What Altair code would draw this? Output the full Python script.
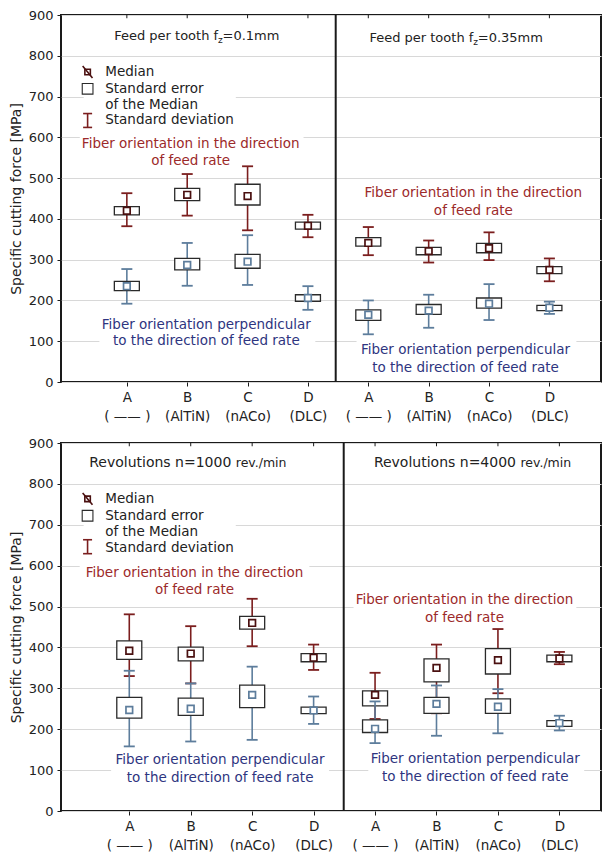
import altair as alt
import pandas as pd

# ---------------- data ----------------
cats = ["A", "B", "C", "D"]
cat_sub = ["( —— )", "(AlTiN)", "(nACo)", "(DLC)"]

# Top: feed per tooth fz=0.1mm (left) / 0.35mm (right)
fz01_red_med = [420, 459, 456, 383]
fz01_red_se_lo = [410, 445, 434, 375]
fz01_red_se_hi = [430, 475, 485, 392]
fz01_red_sd_lo = [382, 408, 372, 355]
fz01_red_sd_hi = [463, 510, 529, 410]
fz01_blue_med = [235, 287, 295, 206]
fz01_blue_se_lo = [224, 275, 279, 198]
fz01_blue_se_hi = [247, 303, 313, 214]
fz01_blue_sd_lo = [192, 236, 238, 177]
fz01_blue_sd_hi = [277, 341, 360, 235]

fz035_red_med = [341, 321, 328, 275]
fz035_red_se_lo = [333, 312, 317, 266]
fz035_red_se_hi = [354, 330, 340, 283]
fz035_red_sd_lo = [311, 293, 299, 247]
fz035_red_sd_hi = [380, 347, 367, 303]
fz035_blue_med = [165, 175, 192, 182]
fz035_blue_se_lo = [151, 166, 181, 175]
fz035_blue_se_hi = [177, 190, 206, 188]
fz035_blue_sd_lo = [117, 133, 152, 167]
fz035_blue_sd_hi = [200, 214, 240, 197]

# Bottom: revolutions n=1000 (left) / n=4000 (right)
n1000_red_med = [392, 385, 460, 375]
n1000_red_se_lo = [371, 367, 445, 365]
n1000_red_se_hi = [416, 401, 476, 385]
n1000_red_sd_lo = [330, 312, 403, 345]
n1000_red_sd_hi = [481, 452, 519, 407]
n1000_blue_med = [247, 250, 284, 246]
n1000_blue_se_lo = [227, 234, 253, 238]
n1000_blue_se_hi = [278, 276, 308, 254]
n1000_blue_sd_lo = [158, 170, 174, 213]
n1000_blue_sd_hi = [343, 312, 353, 280]

n4000_red_med = [284, 350, 369, 373]
n4000_red_se_lo = [257, 316, 335, 365]
n4000_red_se_hi = [294, 372, 397, 381]
n4000_red_sd_lo = [225, 239, 288, 359]
n4000_red_sd_hi = [338, 407, 445, 389]
n4000_blue_med = [201, 262, 255, 215]
n4000_blue_se_lo = [192, 239, 239, 207]
n4000_blue_se_hi = [223, 278, 274, 221]
n4000_blue_sd_lo = [166, 184, 190, 197]
n4000_blue_sd_hi = [268, 307, 298, 233]

y_ticks = [0, 100, 200, 300, 400, 500, 600, 700, 800, 900]

# ---------------- style ----------------
RED_W = "#7b1e1e"
BLUE_W = "#5d7d9c"
RED_MED = "#4a1010"
BOX = "#2a2a2a"
RED_TXT = "#9c2a2a"
BLUE_TXT = "#2e3580"
BLACK = "#1a1a1a"
FONT = "DejaVu Sans"
W = 540


def series_df(med, se_lo, se_hi, sd_lo, sd_hi, offset):
    return pd.DataFrame({
        "pos": [offset + i for i in range(len(med))],
        "med": med, "se_lo": se_lo, "se_hi": se_hi,
        "sd_lo": sd_lo, "sd_hi": sd_hi,
    })


def panel(red_l, blue_l, red_r, blue_r, xdom, divider, texts, rects, icons, height):
    red = pd.concat([series_df(*red_l, 0), series_df(*red_r, 4)])
    blue = pd.concat([series_df(*blue_l, 0), series_df(*blue_r, 4)])

    entries = ",".join(f"['{c}','{s}']" for c, s in zip(cats * 2, cat_sub * 2))
    xscale = alt.Scale(domain=xdom, nice=False, zero=False)
    yscale = alt.Scale(domain=[0, 900], nice=False, zero=True)
    xaxis = alt.Axis(values=list(range(8)), labelExpr=f"[{entries}][datum.value]",
                     title=None, grid=False, domain=False, tickSize=4,
                     tickColor=BLACK, labelFontSize=13.5, labelColor="#222",
                     labelLineHeight=19, labelPadding=4, labelFont=FONT)
    yaxis = alt.Axis(values=y_ticks, title="Specific cutting force [MPa]",
                     titleFontSize=14, titleFontWeight="normal", titleColor="#222",
                     titleFont=FONT, titlePadding=5,
                     grid=True, gridColor="#d8d8d8", gridWidth=1,
                     domain=False, tickSize=4, tickColor=BLACK,
                     labelFontSize=13, labelColor="#222", labelPadding=4,
                     labelFont=FONT)
    X = alt.X("x:Q", scale=xscale, axis=xaxis)
    Y = alt.Y("y:Q", scale=yscale, axis=yaxis)

    layers = []
    # white backgrounds behind text blocks (hide the grid)
    rect_df = pd.DataFrame(rects, columns=["x", "x2", "y", "y2"])
    layers.append(alt.Chart(rect_df).mark_rect(fill="white", strokeWidth=0).encode(
        x=X, x2="x2:Q", y=Y, y2="y2:Q"))
    # inner ticks at top border
    tick_df = pd.DataFrame({"x": list(range(8)), "y": [900] * 8, "y2": [892] * 8})
    layers.append(alt.Chart(tick_df).mark_rule(color=BLACK, strokeWidth=1).encode(
        x=X, y=Y, y2="y2:Q"))

    for df, wcol, mcol in [(red, RED_W, RED_MED), (blue, BLUE_W, BLUE_W)]:
        base = alt.Chart(df)
        xs = alt.X("pos:Q", scale=xscale, axis=xaxis)
        layers.append(base.mark_rule(color=wcol, strokeWidth=1.6).encode(
            x=xs, y=alt.Y("sd_lo:Q", scale=yscale, axis=yaxis), y2="sd_hi:Q"))
        layers.append(base.mark_tick(orient="horizontal", color=wcol, size=11,
                                     thickness=1.8, opacity=1).encode(
            x=xs, y=alt.Y("sd_lo:Q", scale=yscale, axis=yaxis)))
        layers.append(base.mark_tick(orient="horizontal", color=wcol, size=11,
                                     thickness=1.8, opacity=1).encode(
            x=xs, y=alt.Y("sd_hi:Q", scale=yscale, axis=yaxis)))
        layers.append(base.mark_bar(size=25, fill="white", stroke=BOX,
                                    strokeWidth=1.3).encode(
            x=xs, y=alt.Y("se_lo:Q", scale=yscale, axis=yaxis), y2="se_hi:Q"))
        layers.append(base.mark_square(size=44, fill="white", stroke=mcol,
                                       strokeWidth=1.7, opacity=1).encode(
            x=xs, y=alt.Y("med:Q", scale=yscale, axis=yaxis)))

    # divider between the two sub-panels
    div_df = pd.DataFrame({"x": [divider], "y": [0], "y2": [900]})
    layers.append(alt.Chart(div_df).mark_rule(color=BLACK, strokeWidth=2).encode(
        x=X, y=Y, y2="y2:Q"))

    # legend icons
    (mx, my, dx1, dx2, dy1, dy2, sey, sdy1, sdy2) = icons
    ic_sq = pd.DataFrame({"x": [mx], "y": [my]})
    layers.append(alt.Chart(ic_sq).mark_square(size=30, fill="white", stroke=RED_MED,
                                               strokeWidth=1.6, opacity=1).encode(x=X, y=Y))
    ic_diag = pd.DataFrame({"x": [dx1], "x2": [dx2], "y": [dy1], "y2": [dy2]})
    layers.append(alt.Chart(ic_diag).mark_rule(color=RED_MED, strokeWidth=1.6).encode(
        x=X, x2="x2:Q", y=Y, y2="y2:Q"))
    ic_se = pd.DataFrame({"x": [mx], "y": [sey]})
    layers.append(alt.Chart(ic_se).mark_square(size=115, fill="white", stroke=BOX,
                                               strokeWidth=1.1, opacity=1).encode(x=X, y=Y))
    ic_sd = pd.DataFrame({"x": [mx], "y": [sdy1], "y2": [sdy2]})
    layers.append(alt.Chart(ic_sd).mark_rule(color=RED_W, strokeWidth=1.6).encode(
        x=X, y=Y, y2="y2:Q"))
    ic_caps = pd.DataFrame({"x": [mx, mx], "y": [sdy1, sdy2]})
    layers.append(alt.Chart(ic_caps).mark_tick(orient="horizontal", color=RED_W, size=9,
                                               thickness=1.6, opacity=1).encode(x=X, y=Y))

    # texts
    tdf = pd.DataFrame(texts, columns=["x", "y", "text", "size", "color", "align"])
    for al in ["left", "center", "right"]:
        sub = tdf[tdf["align"] == al]
        if len(sub) == 0:
            continue
        layers.append(alt.Chart(sub).mark_text(align=al, baseline="middle",
                                               font=FONT).encode(
            x=X, y=Y, text="text:N",
            size=alt.Size("size:Q", scale=None, legend=None),
            color=alt.Color("color:N", scale=None, legend=None)))

    return alt.layer(*layers).properties(width=W, height=height)


K = "#222"
top_texts = [
    (1.512, 847.8, "Feed per tooth f", 13, K, "right"),
    (1.512, 839.5, "z", 9, K, "left"),
    (1.585, 847.8, "=0.1mm", 13, K, "left"),
    (5.740, 842.9, "Feed per tooth f", 13, K, "right"),
    (5.740, 834.6, "z", 9, K, "left"),
    (5.813, 842.9, "=0.35mm", 13, K, "left"),
    (-0.358, 760.3, "Median", 13.5, K, "left"),
    (-0.358, 719.0, "Standard error", 13.5, K, "left"),
    (-0.358, 680.1, "of the Median", 13.5, K, "left"),
    (-0.358, 641.3, "Standard deviation", 13.5, K, "left"),
    (1.057, 583.0, "Fiber orientation in the direction", 13.5, RED_TXT, "center"),
    (1.057, 541.7, "of feed rate", 13.5, RED_TXT, "center"),
    (1.317, 140.9, "Fiber orientation perpendicular", 13.5, BLUE_TXT, "center"),
    (1.317, 99.6, "to the direction of feed rate", 13.5, BLUE_TXT, "center"),
    (5.740, 464.0, "Fiber orientation in the direction", 13.5, RED_TXT, "center"),
    (5.740, 420.2, "of feed rate", 13.5, RED_TXT, "center"),
    (5.610, 77.7, "Fiber orientation perpendicular", 13.5, BLUE_TXT, "center"),
    (5.610, 34.0, "to the direction of feed rate", 13.5, BLUE_TXT, "center"),
]
top_rects = [
    (-0.715, 1.805, 782.2, 617.0),
    (-0.780, 2.927, 604.9, 519.8),
    (-0.455, 3.122, 116.6, 77.7),
    (3.805, 7.447, 111.7, 14.6),
]
top_icons = (-0.650, 760.3, -0.732, -0.569, 774.9, 745.7, 719.0, 658.3, 624.3)

bot_texts = [
    (1.661, 851.2, "Revolutions n=1000", 14, K, "right"),
    (1.733, 850.0, "rev./min", 12.5, K, "left"),
    (6.294, 851.2, "Revolutions n=4000", 14, K, "right"),
    (6.366, 850.0, "rev./min", 12.5, K, "left"),
    (-0.391, 763.4, "Median", 13.5, K, "left"),
    (-0.391, 722.0, "Standard error", 13.5, K, "left"),
    (-0.391, 683.0, "of the Median", 13.5, K, "left"),
    (-0.391, 644.0, "Standard deviation", 13.5, K, "left"),
    (1.062, 582.9, "Fiber orientation in the direction", 13.5, RED_TXT, "center"),
    (1.062, 541.5, "of feed rate", 13.5, RED_TXT, "center"),
    (1.478, 124.4, "Fiber orientation perpendicular", 13.5, BLUE_TXT, "center"),
    (1.478, 80.5, "to the direction of feed rate", 13.5, BLUE_TXT, "center"),
    (5.455, 517.1, "Fiber orientation in the direction", 13.5, RED_TXT, "center"),
    (5.455, 473.2, "of feed rate", 13.5, RED_TXT, "center"),
    (5.631, 126.8, "Fiber orientation perpendicular", 13.5, BLUE_TXT, "center"),
    (5.631, 82.9, "to the direction of feed rate", 13.5, BLUE_TXT, "center"),
]
bot_rects = [
    (-0.743, 1.733, 792.7, 622.0),
    (-0.807, 2.931, 609.8, 517.1),
    (-0.296, 3.251, 148.8, 56.1),
    (3.650, 7.276, 543.9, 448.8),
    (3.890, 7.404, 151.2, 56.1),
]
bot_icons = (-0.679, 763.4, -0.759, -0.599, 778.0, 748.7, 722.0, 663.4, 629.3)

top = panel(
    (fz01_red_med, fz01_red_se_lo, fz01_red_se_hi, fz01_red_sd_lo, fz01_red_sd_hi),
    (fz01_blue_med, fz01_blue_se_lo, fz01_blue_se_hi, fz01_blue_sd_lo, fz01_blue_sd_hi),
    (fz035_red_med, fz035_red_se_lo, fz035_red_se_hi, fz035_red_sd_lo, fz035_red_sd_hi),
    (fz035_blue_med, fz035_blue_se_lo, fz035_blue_se_hi, fz035_blue_sd_lo, fz035_blue_sd_hi),
    [-1.008, 7.772], 3.46, top_texts, top_rects, top_icons, 367)

bottom = panel(
    (n1000_red_med, n1000_red_se_lo, n1000_red_se_hi, n1000_red_sd_lo, n1000_red_sd_hi),
    (n1000_blue_med, n1000_blue_se_lo, n1000_blue_se_hi, n1000_blue_sd_lo, n1000_blue_sd_hi),
    (n4000_red_med, n4000_red_se_lo, n4000_red_se_hi, n4000_red_sd_lo, n4000_red_sd_hi),
    (n4000_blue_med, n4000_blue_se_lo, n4000_blue_se_hi, n4000_blue_sd_lo, n4000_blue_sd_hi),
    [-1.030, 7.596], 3.49, bot_texts, bot_rects, bot_icons, 368)

chart = alt.vconcat(top, bottom, spacing=12, padding=0).configure(
    font=FONT, background="white"
).configure_view(stroke=BLACK, strokeWidth=2)

chart.save("out.html", embed_options={"renderer": "svg", "actions": False})
